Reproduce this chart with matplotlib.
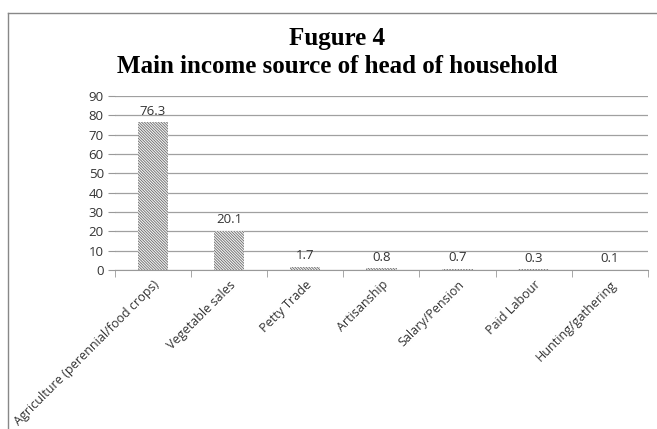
import numpy as np
import matplotlib
matplotlib.use("Agg")
import matplotlib.pyplot as plt
from matplotlib.lines import Line2D

categories = ["Agriculture (perennial/food crops)", "Vegetable sales", "Petty Trade",
              "Artisanship", "Salary/Pension", "Paid Labour", "Hunting/gathering"]
values = [76.3, 20.1, 1.7, 0.8, 0.7, 0.3, 0.1]
yticks = np.arange(0, 100, 10)

plt.rcParams['font.family'] = ['Open Sans', 'DejaVu Sans']
plt.rcParams['hatch.linewidth'] = 0.6

fig = plt.figure(figsize=(6.57, 4.29), dpi=100)
ax = fig.add_axes([0.175, 0.3706, 0.811, 0.4056])

x = np.arange(len(categories))
bars = ax.bar(x, values, width=0.4, facecolor='#f4f4f4', edgecolor='#6a6a6a',
              linewidth=0, hatch='\\' * 12, zorder=3)

for xi, v in zip(x, values):
    ax.annotate("{}".format(v), (xi, v), xytext=(0, 3.5), textcoords='offset points',
                ha='center', va='bottom', fontsize=9.5, color='#333333')

ax.set_xlim(-0.5, len(categories) - 0.5)
ax.set_ylim(0, 90)
ax.set_yticks(yticks)
ax.tick_params(axis='y', length=5, color='#999999', labelsize=9.5, labelcolor='#333333', pad=3)
ax.yaxis.grid(True, color='#a0a0a0', linewidth=0.9, zorder=0)

ax.set_xticks(x)
ax.set_xticklabels(categories, rotation=45, ha='right', rotation_mode='anchor',
                   fontsize=9, color='#333333')
ax.tick_params(axis='x', which='major', length=0, pad=6)
ax.set_xticks(np.arange(len(categories) + 1) - 0.5, minor=True)
ax.tick_params(axis='x', which='minor', length=5, color='#999999')

for s in ['left', 'right', 'top']:
    ax.spines[s].set_visible(False)
ax.spines['bottom'].set_color('#999999')
ax.spines['bottom'].set_zorder(4)

fig.text(0.513, 0.911, "Fugure 4", ha='center', va='center', fontsize=18,
         fontweight='bold', family='Liberation Serif')
fig.text(0.513, 0.846, "Main income source of head of household", ha='center', va='center',
         fontsize=18, fontweight='bold', family='Liberation Serif')

# chart border (left and top edges visible in the crop)
fig.add_artist(Line2D([8 / 657, 8 / 657], [0, 1 - 13 / 429], transform=fig.transFigure,
                      color='#888888', linewidth=1))
fig.add_artist(Line2D([8 / 657, 1], [1 - 13 / 429, 1 - 13 / 429], transform=fig.transFigure,
                      color='#888888', linewidth=1))

fig.savefig("out.png", dpi=100, facecolor='white')
